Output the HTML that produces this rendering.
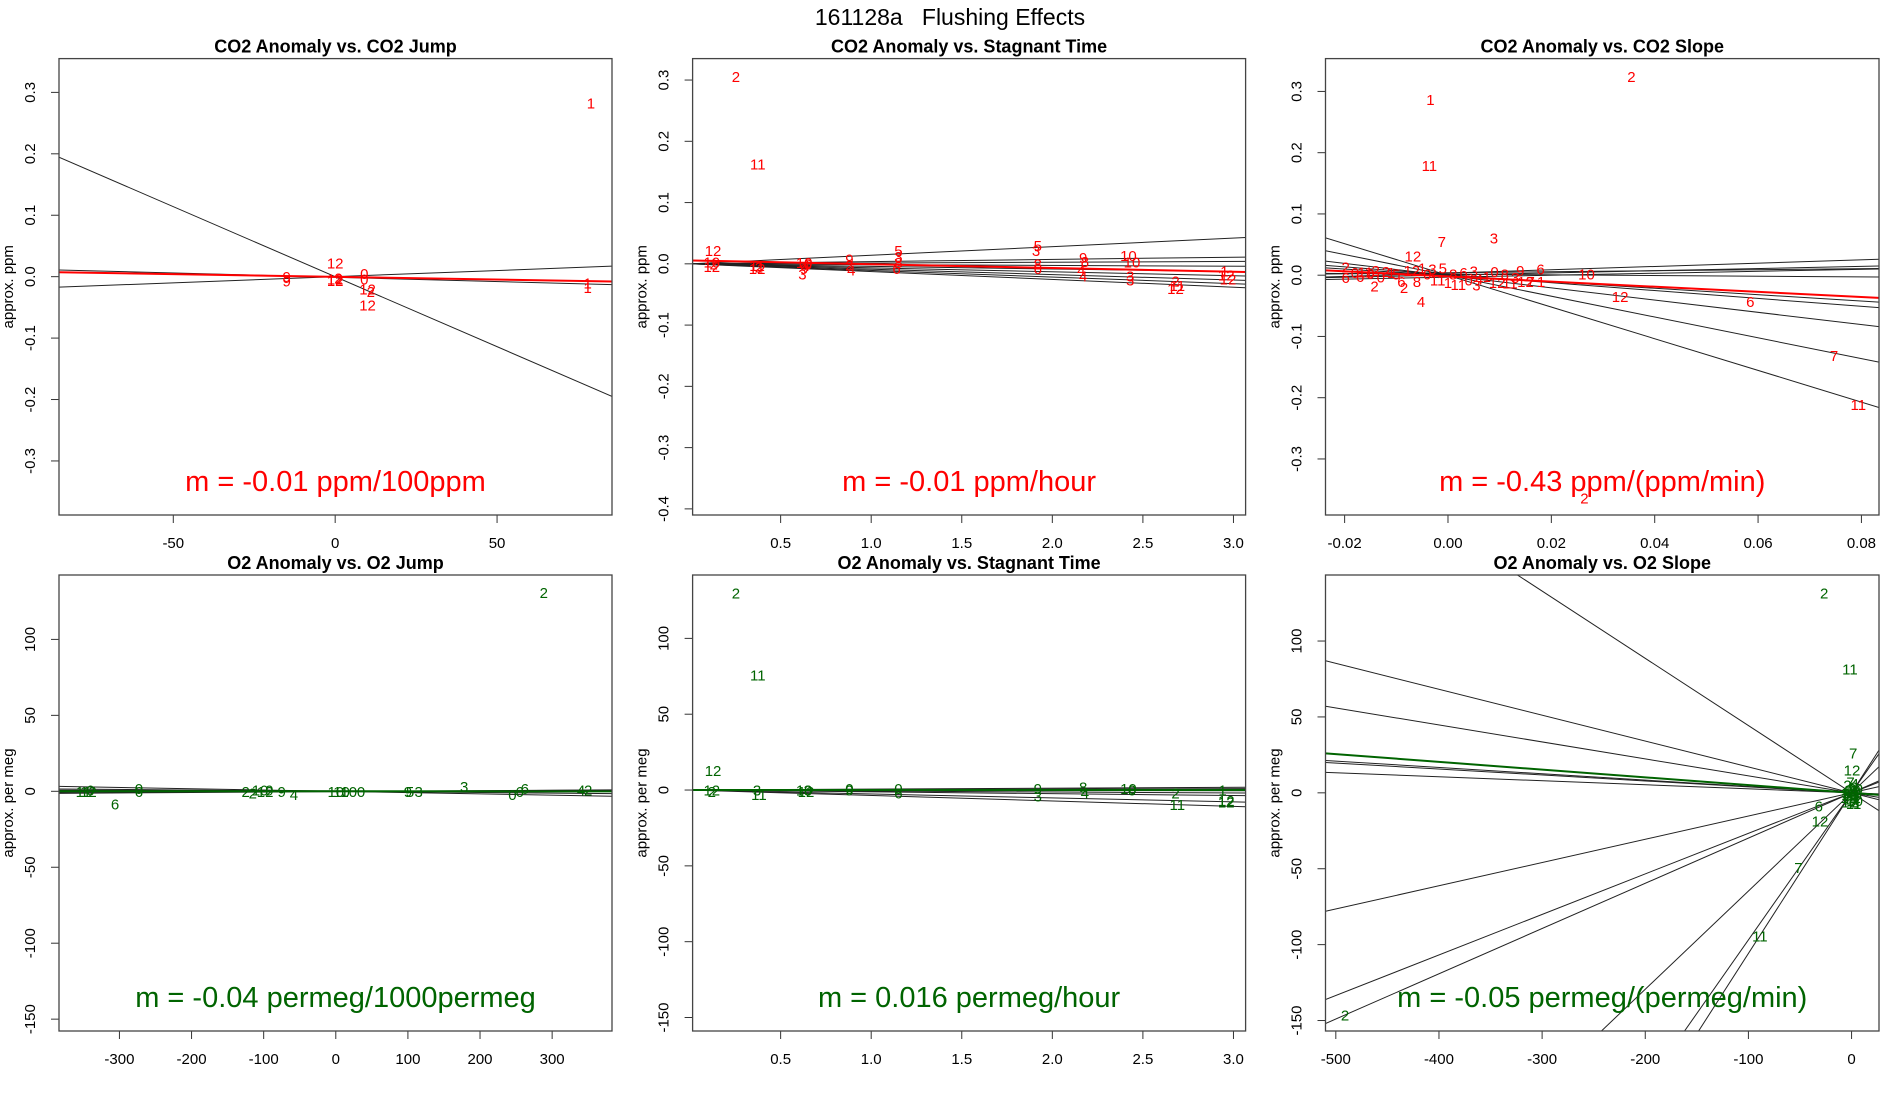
<!DOCTYPE html>
<html><head><meta charset="utf-8">
<style>
html,body{margin:0;padding:0;background:#fff;width:1900px;height:1100px;overflow:hidden;}
svg{display:block;font-family:"Liberation Sans",Arial,sans-serif;}
</style></head>
<body>
<svg id="chart" width="1900" height="1100" viewBox="0 0 1900 1100">
<text x="950" y="25" text-anchor="middle" font-size="23" fill="#000">161128a&#160;&#160;&#160;Flushing Effects</text>
</svg>
<script>
// ---------- Panel 1: CO2 Anomaly vs CO2 Jump ----------
const p1XTicks = [-50, 0, 50];
const p1YTicks = [-0.3, -0.2, -0.1, 0.0, 0.1, 0.2, 0.3];
const p1YTickLabels = ["-0.3","-0.2","-0.1","0.0","0.1","0.2","0.3"];
const p1PtX = [79, 78, 78, -15, -15, 0, 0, 1, 0, 9, 9, 10, 11, 10];
const p1PtY = [0.283, -0.010, -0.018, 0.000, -0.007, 0.022, -0.004, -0.002, -0.006, 0.005, -0.004, -0.020, -0.024, -0.046];
const p1PtLab = ["1","1","1","9","9","12","12","2","12","0","0","12","2","12"];
const p1LineSlope = [-0.00228, 0.0002, -0.00014];
const p1LineInt = [0.0, 0.0, -0.001];
const p1FitSlope = -0.0000878, p1FitInt = -0.0003;

// ---------- Panel 2: CO2 Anomaly vs Stagnant Time ----------
const p2XTicks = [0.5, 1.0, 1.5, 2.0, 2.5, 3.0];
const p2XTickLabels = ["0.5","1.0","1.5","2.0","2.5","3.0"];
const p2YTicks = [-0.4, -0.3, -0.2, -0.1, 0.0, 0.1, 0.2, 0.3];
const p2YTickLabels = ["-0.4","-0.3","-0.2","-0.1","0.0","0.1","0.2","0.3"];
const p2PtX = [0.253,0.374,0.127,0.12,0.12,0.13,0.37,0.37,0.38,0.63,0.64,0.65,0.63,0.62,0.88,0.88,0.89,1.15,1.15,1.15,1.14,1.92,1.91,1.92,1.92,2.17,2.18,2.16,2.17,2.42,2.44,2.43,2.43,2.68,2.69,2.68,2.95,2.96,2.97];
const p2PtY = [0.306,0.163,0.022,0.003,-0.004,0.0,-0.003,-0.008,-0.005,0.002,-0.003,0.0,-0.008,-0.017,0.008,-0.002,-0.010,0.022,0.012,0.002,-0.008,0.030,0.022,0.0,-0.008,0.010,0.004,-0.010,-0.020,0.014,0.003,-0.020,-0.026,-0.028,-0.035,-0.040,-0.012,-0.018,-0.025];
const p2PtLab = ["2","11","12","10","12","2","11","12","2","10","4","6","9","3","9","2","4","5","3","8","6","5","3","8","6","9","8","4","4","10","10","3","3","2","11","12","1","12","12"];
const p2LineSlope = [0.014, 0.0036, 0.0013, -0.0013, -0.0042, -0.0065, -0.0088, -0.0108, -0.0127];
const p2LineInt = [0, 0, 0, 0, 0, 0, 0, 0, 0];
const p2FitSlope = -0.0062, p2FitInt = 0.0056;

// ---------- Panel 3: CO2 Anomaly vs CO2 Slope ----------
const p3XTicks = [-0.02, 0.0, 0.02, 0.04, 0.06, 0.08];
const p3XTickLabels = ["-0.02","0.00","0.02","0.04","0.06","0.08"];
const p3YTicks = [-0.3, -0.2, -0.1, 0.0, 0.1, 0.2, 0.3];
const p3YTickLabels = ["-0.3","-0.2","-0.1","0.0","0.1","0.2","0.3"];
const p3PtX = [0.0355,-0.0034,-0.0036,-0.0012,0.0089,-0.0068,0.0179,0.0268,0.0333,0.0585,0.0747,0.0794,0.0264,-0.0052,-0.0198,
  -0.0198,-0.018,-0.017,-0.016,-0.015,-0.014,-0.0142,-0.013,-0.012,-0.011,-0.010,-0.0085,-0.009,-0.007,-0.006,-0.005,-0.004,-0.003,-0.002,-0.001,0.0,0.001,0.002,0.003,0.004,0.005,0.0055,0.006,0.0075,0.009,0.0095,0.011,0.012,0.013,0.014,0.015,0.016,0.018];
const p3PtY = [0.324,0.287,0.179,0.055,0.061,0.031,0.010,0.002,-0.035,-0.043,-0.131,-0.211,-0.364,-0.043,0.013,
  -0.004,0.004,-0.002,0.005,0.003,0.008,-0.018,-0.003,0.006,0.004,0.002,-0.020,-0.010,0.008,-0.010,0.012,0.002,0.010,-0.008,0.012,-0.012,0.002,-0.015,0.004,-0.008,0.007,-0.016,-0.006,-0.002,0.006,-0.012,0.002,-0.013,-0.004,0.008,-0.010,-0.010,-0.010];
const p3PtLab = ["2","1","11","7","3","12","6","10","12","6","7","11","2","4","2",
  "6","0","6","11","0","2","2","0","2","1","5","2","6","12","8","1","0","3","11","5","1","8","11","6","0","3","3","4","1","0","12","8","11","3","9","12","7","1"];
const p3LineSlope = [-2.586, -1.699, -0.999, -0.644, -0.523, 0.271, 0.177, 0.084, 0.159, -0.056];
const p3LineInt = [-0.0003, -0.0003, -0.0007, 0.0007, -0.0004, 0.0034, 0.0002, 0.004, -0.0032, 0.0017];
const p3FitSlope = -0.42, p3FitInt = -0.002;

// ---------- Panel 4: O2 Anomaly vs O2 Jump ----------
const p4XTicks = [-300, -200, -100, 0, 100, 200, 300];
const p4YTicks = [-150, -100, -50, 0, 50, 100];
const p4PtX = [288.5,-306,-350,-343,-340,-273,-273,-125,-115,-105,-98,-92,-75,-58,0,8,18,35,100,103,115,178,245,255,262,340,350];
const p4PtY = [131,-8.4,0,0,1,2,0,0,-1,1,0,1,0,-2,0,0,0,0,0,0,0,3,-2,0,2,1,1];
const p4PtLab = ["2","6","11","12","0","0","6","2","2","10","12","9","9","4","10","10","10","0","9","5","3","3","0","6","6","4","2"];
const p4LineSlope = [-0.0085, -0.004, 0.002, -0.001, 0.003];
const p4LineInt = [0, 0, 0, 0.3, -0.2];
const p4FitSlope = -0.00004, p4FitInt = 0;

// ---------- Panel 5: O2 Anomaly vs Stagnant Time ----------
const p5XTicks = [0.5, 1.0, 1.5, 2.0, 2.5, 3.0];
const p5XTickLabels = ["0.5","1.0","1.5","2.0","2.5","3.0"];
const p5YTicks = [-150, -100, -50, 0, 50, 100];
const p5PtX = [0.253,0.374,0.127,0.12,0.12,0.37,0.38,0.63,0.65,0.64,0.88,0.88,1.15,1.15,1.92,1.92,2.17,2.18,2.42,2.44,2.68,2.69,2.94,2.96,2.96];
const p5PtY = [130,76,13,0,-1,0,-3,0,0,-1,0,1,1,-2,1,-4,2,-2,1,0,-2,-9.5,0,-8,-7];
const p5PtLab = ["2","11","12","12","2","3","11","10","3","12","9","0","0","6","9","3","8","4","10","0","2","11","1","12","12"];
const p5LineSlope = [0.6, 0.3, -0.15, -0.65, -1.2, -2.6, -3.6];
const p5LineInt = [0, 0, 0, 0, 0, 0, 0];
const p5FitSlope = 0.016, p5FitInt = 0;

// ---------- Panel 6: O2 Anomaly vs O2 Slope ----------
const p6XTicks = [-500, -400, -300, -200, -100, 0];
const p6YTicks = [-150, -100, -50, 0, 50, 100];
const p6PtX = [-26.5,-1.6,1.6,0.4,-31.8,-30.6,-51.5,-88.9,-491,
  -5,-3,0,2,4,-2,3,5,1,-4,6,-1,2,7,-6,0,3,-3,5,1,-2,4];
const p6PtY = [131.5,81.7,26.2,15,-8.8,-18.7,-49.3,-94.4,-146.4,
  2,-3,0,4,1,-6,-5,2,-2,5,-1,7,-7,3,0,-4,6,2,-3,3,-1,-6];
const p6PtLab = ["2","11","7","12","6","12","7","11","2",
  "4","12","1","8","3","12","10","9","5","2","6","7","11","0","3","12","4","8","1","9","10","2"];
const p6LineSlope = [-0.443, -0.1706, -0.1118, -0.0418, -0.0392, -0.0265, 0.153, 0.267, 0.298, 0.647, 0.969, 1.058];
const p6LineInt = [0, 0, 0, 0, 0, 0, 0, 0, 0, 0, 0, 0];
const p6FitSlope = -0.051, p6FitInt = 0;

const NS = "http://www.w3.org/2000/svg";
const svg = document.getElementById("chart");
function mk(tag, attrs, parent) {
  const e = document.createElementNS(NS, tag);
  for (const k in attrs) e.setAttribute(k, attrs[k]);
  (parent || svg).appendChild(e);
  return e;
}

function drawPanel(o) {
  const g = mk("g", {});
  
  
  const L = o.box[0], R = o.box[1], T = o.box[2], B = o.box[3];
  const sx = v => L + (v - o.xr[0]) / (o.xr[1] - o.xr[0]) * (R - L);
  const sy = v => B - (v - o.yr[0]) / (o.yr[1] - o.yr[0]) * (B - T);
  const cid = "clip-" + o.name;
  const cp = mk("clipPath", {id: cid}, g);
  mk("rect", {x: L, y: T, width: R - L, height: B - T}, cp);

  const title = mk("text", {x: (L + R) / 2, y: T - 6, "text-anchor": "middle", "font-size": 18, "font-weight": "bold"}, g);
  title.textContent = o.title;
  
  

  o.xt.forEach((v, i) => {
    const x = sx(v);
    const t = mk("line", {x1: x, x2: x, y1: B, y2: B + 8, stroke: "#333", "stroke-width": 1}, g);
    
    
    const lb = mk("text", {x: x, y: B + 33, "text-anchor": "middle", "font-size": 15}, g);
    lb.textContent = o.xtl ? o.xtl[i] : String(v);
    
    
  });
  o.yt.forEach((v, i) => {
    const y = sy(v);
    const t = mk("line", {x1: L - 8, x2: L, y1: y, y2: y, stroke: "#333", "stroke-width": 1}, g);
    
    
    const lx = L - 24;
    const lb = mk("text", {x: lx, y: y, "text-anchor": "middle", "font-size": 15, transform: "rotate(-90 " + lx + " " + y + ")"}, g);
    lb.textContent = o.ytl ? o.ytl[i] : String(v);
    
    
  });
  const yl = L - 46, ym = (T + B) / 2;
  const ylab = mk("text", {x: yl, y: ym, "text-anchor": "middle", "font-size": 15, transform: "rotate(-90 " + yl + " " + ym + ")"}, g);
  ylab.textContent = o.ylab;
  
  

  const inner = mk("g", {"clip-path": "url(#" + cid + ")"}, g);
  o.ls.forEach((m, i) => {
    const b = o.li[i];
    const ln = mk("line", {x1: sx(o.xr[0]), y1: sy(b + m * o.xr[0]), x2: sx(o.xr[1]), y2: sy(b + m * o.xr[1]), stroke: "#222", "stroke-width": 1}, inner);
    
    
  });
  o.px.forEach((xv, i) => {
    const t = mk("text", {x: sx(xv), y: sy(o.py[i]) + 5.5, "text-anchor": "middle", "font-size": 15, fill: o.col}, inner);
    t.textContent = o.pl[i];
    
    
  });
  const fl = mk("line", {x1: sx(o.xr[0]), y1: sy(o.fi + o.fs * o.xr[0]), x2: sx(o.xr[1]), y2: sy(o.fi + o.fs * o.xr[1]), stroke: o.col, "stroke-width": 2}, inner);
  
  

  const box = mk("rect", {x: L, y: T, width: R - L, height: B - T, fill: "none", stroke: "#444", "stroke-width": 1.3}, g);
  
  

  const ann = mk("text", {x: (L + R) / 2, y: B - 24, "text-anchor": "middle", "font-size": 29, fill: o.col}, g);
  ann.textContent = o.ann;
  
  
}

const RED = "#ff0000", GREEN = "#006400";
drawPanel({name: "co2-vs-jump-panel", title: "CO2 Anomaly vs. CO2 Jump", box: [59, 612, 58.6, 515], xr: [-85.3, 85.5], yr: [-0.388, 0.355],
  xt: p1XTicks, yt: p1YTicks, ytl: p1YTickLabels, px: p1PtX, py: p1PtY, pl: p1PtLab, ls: p1LineSlope, li: p1LineInt, fs: p1FitSlope, fi: p1FitInt,
  col: RED, ylab: "approx. ppm", ann: "m = -0.01 ppm/100ppm"});
drawPanel({name: "co2-vs-stagnant-panel", title: "CO2 Anomaly vs. Stagnant Time", box: [692.6, 1245.6, 58.6, 515], xr: [0.014, 3.067], yr: [-0.41, 0.335],
  xt: p2XTicks, xtl: p2XTickLabels, yt: p2YTicks, ytl: p2YTickLabels, px: p2PtX, py: p2PtY, pl: p2PtLab, ls: p2LineSlope, li: p2LineInt, fs: p2FitSlope, fi: p2FitInt,
  col: RED, ylab: "approx. ppm", ann: "m = -0.01 ppm/hour"});
drawPanel({name: "co2-vs-slope-panel", title: "CO2 Anomaly vs. CO2 Slope", box: [1325.5, 1879, 58.6, 515], xr: [-0.0237, 0.0834], yr: [-0.3915, 0.3536],
  xt: p3XTicks, xtl: p3XTickLabels, yt: p3YTicks, ytl: p3YTickLabels, px: p3PtX, py: p3PtY, pl: p3PtLab, ls: p3LineSlope, li: p3LineInt, fs: p3FitSlope, fi: p3FitInt,
  col: RED, ylab: "approx. ppm", ann: "m = -0.43 ppm/(ppm/min)"});
drawPanel({name: "o2-vs-jump-panel", title: "O2 Anomaly vs. O2 Jump", box: [59, 612, 575, 1031], xr: [-383.8, 383], yr: [-157.8, 142.4],
  xt: p4XTicks, yt: p4YTicks, px: p4PtX, py: p4PtY, pl: p4PtLab, ls: p4LineSlope, li: p4LineInt, fs: p4FitSlope, fi: p4FitInt,
  col: GREEN, ylab: "approx. per meg", ann: "m = -0.04 permeg/1000permeg"});
drawPanel({name: "o2-vs-stagnant-panel", title: "O2 Anomaly vs. Stagnant Time", box: [692.6, 1245.6, 575, 1031], xr: [0.014, 3.067], yr: [-158.9, 141.8],
  xt: p5XTicks, xtl: p5XTickLabels, yt: p5YTicks, px: p5PtX, py: p5PtY, pl: p5PtLab, ls: p5LineSlope, li: p5LineInt, fs: p5FitSlope, fi: p5FitInt,
  col: GREEN, ylab: "approx. per meg", ann: "m = 0.016 permeg/hour"});
drawPanel({name: "o2-vs-slope-panel", title: "O2 Anomaly vs. O2 Slope", box: [1325.5, 1879, 575, 1031], xr: [-510, 26.6], yr: [-156.9, 143.5],
  xt: p6XTicks, yt: p6YTicks, px: p6PtX, py: p6PtY, pl: p6PtLab, ls: p6LineSlope, li: p6LineInt, fs: p6FitSlope, fi: p6FitInt,
  col: GREEN, ylab: "approx. per meg", ann: "m = -0.05 permeg/(permeg/min)"});
</script>
</body></html>
